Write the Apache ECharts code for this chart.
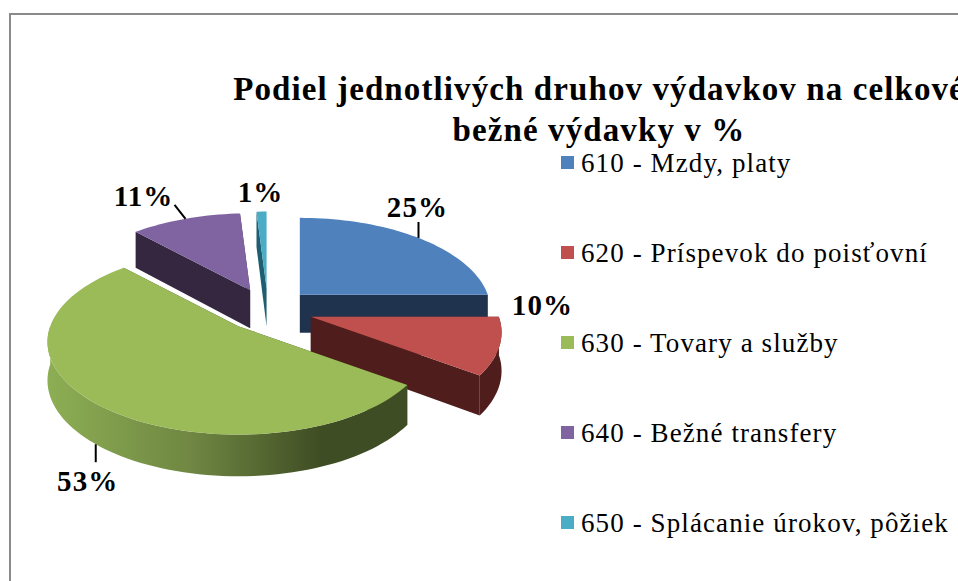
<!DOCTYPE html>
<html><head><meta charset="utf-8">
<style>html,body{margin:0;padding:0;background:#fff}#c{width:958px;height:581px;letter-spacing:1.1px}</style>
<script src="https://cdn.jsdelivr.net/npm/echarts@6/dist/echarts.min.js"></script>
</head><body><div id="c"></div>
<script>
const titleText = 'Podiel jednotlivých druhov výdavkov na celkové\nbežné výdavky v %';
const categories = ['610 - Mzdy, platy','620 - Príspevok do poisťovní','630 - Tovary a služby','640 - Bežné transfery','650 - Splácanie úrokov, pôžiek'];
const shares = [25,10,53,11,1];
const topColors = ['#4f81bd','#c0504d','#9bbb59','#8064a2','#4bacc6'];
const sideColors = ['#1f334f','#4f1e1c','#3f4d24','#352740','#1d5f70'];

// layout of the tilted, exploded pie
const pie = {cx:268, cy:310, rx:188, ry:90, persp:0.17, explode:45, depth:38};
const paintZ = [3,4,5,1,2];
const leader = [[0,-16],[0,0],[0,18],[-11,-14],[0,0]];
const labelOffset = [[-1,-31],[43,-41],[-8,37],[-42,-23],[-1,-20]];

const total = shares.reduce((a,b)=>a+b,0);
const starts = []; shares.reduce((a,v,i)=>{starts[i]=a; return a+v/total*360;},0);
const rad = d => d*Math.PI/180;
const persp = t => 1/(1+pie.persp*Math.cos(rad(t)));
const rim = (ax,ay,t) => {const s=persp(t); return [ax+Math.sin(rad(t))*pie.rx*s, ay-Math.cos(rad(t))*pie.ry*s];};
const drop = t => pie.depth*Math.sqrt(persp(t));

function sliceItem(i){
  return function(params, api){
    const a0 = starts[i], a1 = a0 + api.value(0)/total*360, mid=(a0+a1)/2;
    const ax = pie.cx + Math.sin(rad(mid))*pie.explode;
    const ay = pie.cy - Math.cos(rad(mid))*pie.explode*pie.ry/pie.rx;
    const d0 = pie.depth;
    const kids = [];
    const cut = t => {
      const p = rim(ax,ay,t), d=drop(t);
      kids.push({type:'polygon',shape:{points:[[ax,ay],p,[p[0],p[1]+d],[ax,ay+d0]]},style:{fill:sideColors[i]}});
    };
    cut(a0); cut(a1);
    const w0 = Math.max(a0,90), w1 = Math.min(a1,270);
    if (w1 > w0){
      const up=[], low=[];
      for(let t=w0;t<=w1+0.01;t+=Math.min(2,(w1-w0))){const p=rim(ax,ay,t); up.push(p); low.unshift([p[0],p[1]+drop(t)]);}
      const fill = i===2 ? new echarts.graphic.LinearGradient(0,0,1,0,[
        {offset:0,color:'#8dae54'},{offset:0.4,color:'#6f8742'},{offset:0.76,color:'#3f4d24'},{offset:1,color:'#3f4d24'}]) : sideColors[i];
      kids.push({type:'polygon',shape:{points:up.concat(low)},style:{fill}});
    }
    const top=[[ax,ay]];
    for(let t=a0;t<a1;t+=Math.min(2,a1-a0)) top.push(rim(ax,ay,t));
    top.push(rim(ax,ay,a1));
    kids.push({type:'polygon',shape:{points:top},style:{fill:topColors[i]}});
    const m = rim(ax,ay,mid);
    const front = mid>90 && mid<270 && i===2 ? drop(mid) : 0;
    const bx=m[0], by=m[1]+front;
    if (leader[i][0]||leader[i][1]) kids.push({type:'line',shape:{x1:bx,y1:by,x2:bx+leader[i][0],y2:by+leader[i][1]},style:{stroke:'#000',lineWidth:2}});
    kids.push({type:'text',style:{text:Math.round(api.value(0))+'%',x:bx+labelOffset[i][0],y:by+labelOffset[i][1],align:'center',verticalAlign:'middle',fill:'#000',font:'bold 29px "Liberation Serif"'}});
    return {type:'group',children:kids};
  };
}

const chart = echarts.init(document.getElementById('c'),null,{renderer:'svg'});
chart.setOption({
  animation:false,
  backgroundColor:'#fff',
  title:{text:titleText,left:594,top:63,textAlign:'center',textStyle:{fontFamily:'Liberation Serif',fontWeight:'bold',fontSize:33,lineHeight:41,color:'#000'}},
  legend:{data:categories,orient:'vertical',left:556,top:144,itemWidth:13,itemHeight:13,itemGap:63,icon:'rect',
    textStyle:{fontFamily:'Liberation Serif',fontSize:27,color:'#000',padding:[0,0,0,2]},selectedMode:false},
  graphic:[{type:'rect',silent:true,shape:{x:10,y:14,width:1000,height:700},style:{fill:'none',stroke:'#8a8a8a',lineWidth:2}}],
  series:categories.map((name,i)=>({
    type:'custom',name,coordinateSystem:'none',z:paintZ[i],silent:true,
    itemStyle:{color:topColors[i]},data:[shares[i]],renderItem:sliceItem(i),clip:false
  }))
});
</script></body></html>
